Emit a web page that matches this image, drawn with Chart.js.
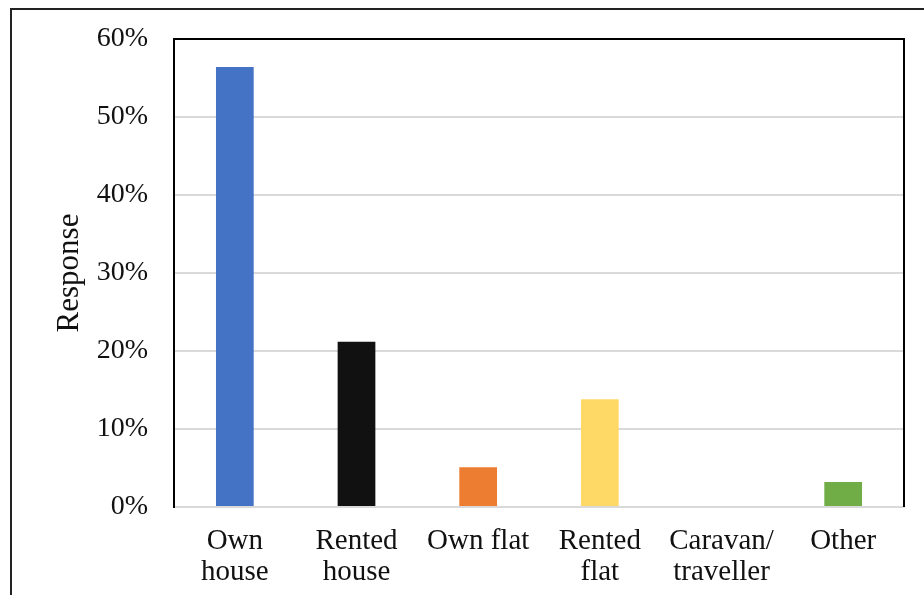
<!DOCTYPE html>
<html>
<head>
<meta charset="utf-8">
<script src="https://cdn.jsdelivr.net/npm/chart.js@4"></script>
<style>
  body { margin: 0; background: #fff; }
</style>
</head>
<body>
<canvas id="chart" width="924" height="595"></canvas>
<script>
// data
const categories = [['Own', 'house'], ['Rented', 'house'], 'Own flat', ['Rented', 'flat'], ['Caravan/', 'traveller'], 'Other'];
const responses = [56.4, 21.2, 5.1, 13.8, 0, 3.2];
const barColors = ['#4472C4', '#111111', '#ED7D31', '#FFD966', '#A5A5A5', '#70AD47'];
const yTicks = [0, 10, 20, 30, 40, 50, 60];

const fontFamily = '"Liberation Serif", "Times New Roman", serif';

// white background, outer frame, black box round the plot
const framePlugin = {
    id: 'frame',
    beforeDraw(chart) {
        const ctx = chart.ctx;
        ctx.save();
        ctx.fillStyle = '#fff';
        ctx.fillRect(0, 0, chart.width, chart.height);
        ctx.restore();
    },
    afterDraw(chart) {
        const ctx = chart.ctx;
        const a = chart.chartArea;
        ctx.save();
        ctx.strokeStyle = '#222';
        ctx.lineWidth = 2;
        ctx.beginPath();
        ctx.moveTo(11, chart.height);
        ctx.lineTo(11, 9);
        ctx.lineTo(chart.width, 9);
        ctx.stroke();

        ctx.strokeStyle = '#000';
        ctx.beginPath();
        ctx.moveTo(a.left, a.top);
        ctx.lineTo(a.right, a.top);
        ctx.lineTo(a.right, a.bottom);
        ctx.stroke();
        ctx.restore();
    }
};

new Chart(document.getElementById('chart'), {
    type: 'bar',
    data: {
        labels: categories,
        datasets: [{
            label: 'Response',
            data: responses,
            backgroundColor: barColors,
            borderWidth: 0,
            categoryPercentage: 1,
            barPercentage: 0.31
        }]
    },
    options: {
        responsive: false,
        animation: false,
        layout: { padding: { left: 0, top: 39, right: 20, bottom: 0 } },
        plugins: {
            legend: { display: false },
            tooltip: { enabled: false }
        },
        scales: {
            x: {
                grid: { display: false, drawTicks: false },
                border: { color: '#d9d9d9', width: 2 },
                ticks: {
                    color: '#111',
                    padding: 19,
                    maxRotation: 0,
                    font: { family: fontFamily, size: 29, lineHeight: 1.07 }
                },
                afterFit(scale) {
                    scale.height = 88;
                    scale.paddingLeft = 0;
                    scale.paddingRight = 0;
                }
            },
            y: {
                min: 0,
                max: 60,
                afterBuildTicks(scale) {
                    scale.ticks = yTicks.map(v => ({ value: v }));
                },
                grid: { color: '#d9d9d9', lineWidth: 2, drawTicks: false },
                border: { color: '#000', width: 2 },
                ticks: {
                    color: '#111',
                    padding: 26,
                    font: { family: fontFamily, size: 28 },
                    callback: v => v + '%'
                },
                title: {
                    display: true,
                    text: 'Response',
                    color: '#111',
                    padding: { top: 51, bottom: 0 },
                    font: { family: fontFamily, size: 31, lineHeight: 1.2 }
                },
                afterFit(scale) {
                    scale.width = 174;
                    scale.paddingTop = 0;
                    scale.paddingBottom = 0;
                }
            }
        }
    },
    plugins: [framePlugin]
});
</script>
</body>
</html>
